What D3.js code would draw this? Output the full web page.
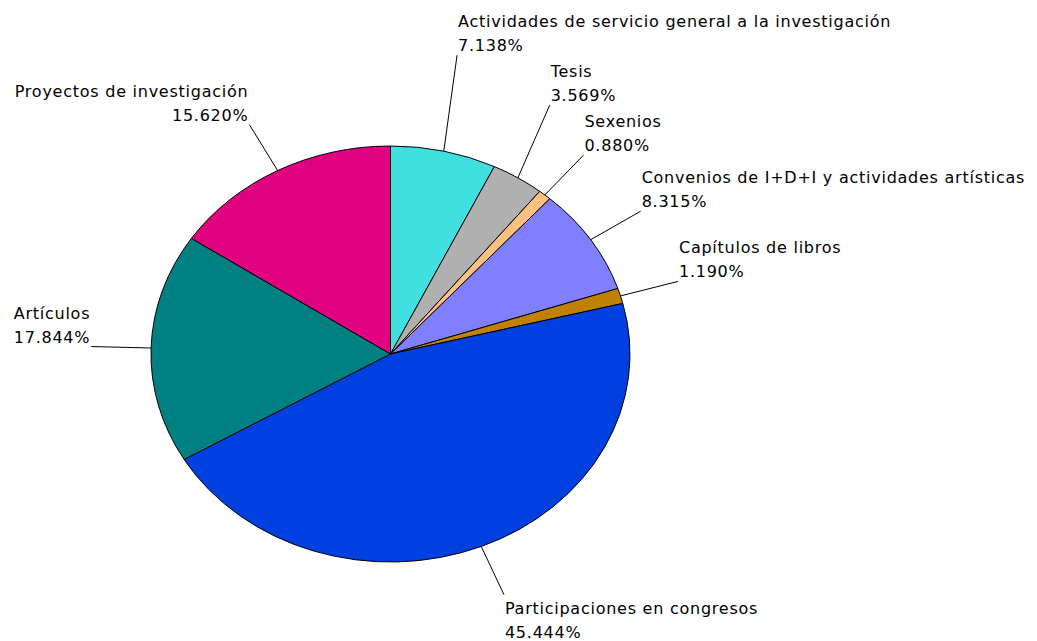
<!DOCTYPE html>
<html>
<head>
<meta charset="utf-8">
<script src="https://cdn.jsdelivr.net/npm/d3@7"></script>
<style>
  html, body { margin: 0; padding: 0; background: #ffffff; }
  svg { display: block; }
  text { font-family: "DejaVu Sans", sans-serif; font-size: 16px; letter-spacing: 0.75px; fill: #000; }
</style>
</head>
<body>
<svg id="chart" width="1037" height="641"></svg>
<script>
// ---- data ----
const categories = [
  "Actividades de servicio general a la investigación",
  "Tesis",
  "Sexenios",
  "Convenios de I+D+I y actividades artísticas",
  "Capítulos de libros",
  "Participaciones en congresos",
  "Artículos",
  "Proyectos de investigación"
];
const values = [7.138, 3.569, 0.880, 8.315, 1.190, 45.444, 17.844, 15.620];
const valueLabels = ["7.138%", "3.569%", "0.880%", "8.315%", "1.190%", "45.444%", "17.844%", "15.620%"];
const colors = ["#40E0E0", "#B0B0B0", "#FFC080", "#8080FF", "#C08000", "#0040E0", "#008080", "#E00080"];

// ---- layout ----
const W = 1037, H = 641;
const cx = 390.5, cy = 354, rx = 239.5, ry = 208;
const outer = 1.25;       // leader line end ellipse factor
const lineGap = 24;       // line spacing of labels
const blockH = 50;        // label block height for collision avoidance

const svg = d3.select("#chart");

const pie = d3.pie().sort(null).value(d => d)(values);
const arc = d3.arc().innerRadius(0).outerRadius(ry);

const g = svg.append("g")
  .attr("transform", `translate(${cx},${cy}) scale(${rx / ry},1)`);

g.selectAll("path")
  .data(pie)
  .join("path")
  .attr("d", arc)
  .attr("fill", (d, i) => colors[i])
  .attr("stroke", "#000")
  .attr("stroke-width", 1)
  .attr("vector-effect", "non-scaling-stroke");

// label positions
const labels = pie.map((d, i) => {
  const a = (d.startAngle + d.endAngle) / 2;
  const s = Math.sin(a), c = Math.cos(a);
  return {
    i,
    s, c,
    x0: cx + rx * s, y0: cy - ry * c,
    x1: cx + outer * rx * s, y1: cy - outer * ry * c,
    below: c < 0,
    right: s >= 0
  };
});

// simple collision avoidance for labels above their leader end, per side
[true, false].forEach(side => {
  const grp = labels.filter(l => l.right === side && !l.below)
    .sort((a, b) => b.y1 - a.y1);
  for (let k = 1; k < grp.length; k++) {
    if (grp[k].y1 > grp[k - 1].y1 - blockH) grp[k].y1 = grp[k - 1].y1 - blockH;
  }
});

const lg = svg.append("g");
lg.selectAll("line")
  .data(labels)
  .join("line")
  .attr("x1", d => d.x0).attr("y1", d => d.y0)
  .attr("x2", d => d.x1).attr("y2", d => d.y1)
  .attr("stroke", "#000")
  .attr("stroke-width", 1);

labels.forEach(l => {
  const anchor = l.right ? "start" : "end";
  const tx = l.right ? l.x1 + 1 : l.x1 - 1;
  const b1 = l.below ? l.y1 + 19 : l.y1 - 4 - lineGap;
  const t = lg.append("text").attr("text-anchor", anchor);
  t.append("tspan").attr("x", tx).attr("y", b1).text(categories[l.i]);
  t.append("tspan").attr("x", tx).attr("y", b1 + lineGap).text(valueLabels[l.i]);
});
</script>
</body>
</html>
